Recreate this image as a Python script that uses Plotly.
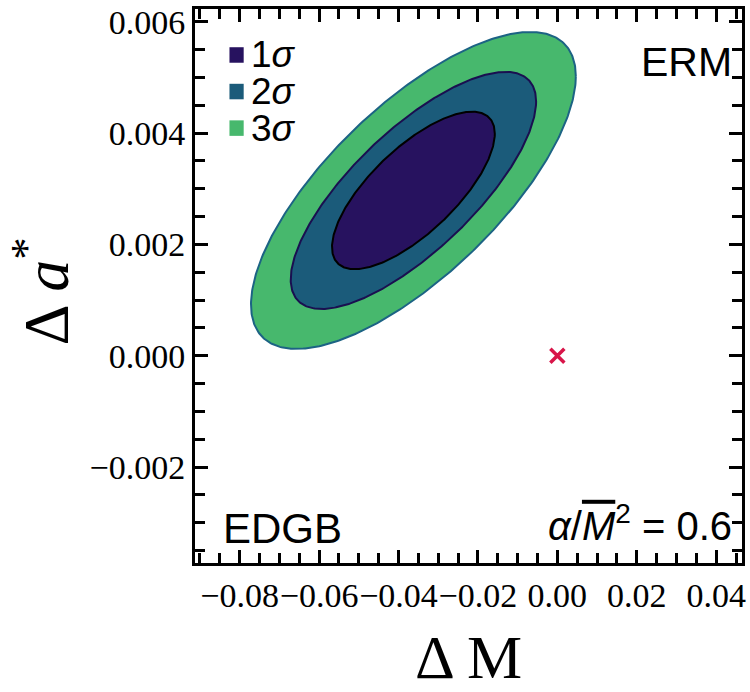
import numpy as np
import plotly.graph_objects as go

# ---- data: confidence-region ellipses (centre, half-extents, correlation) ----
levels = ["1", "2", "3"]
center_dM = -0.03625
center_da = 0.00297
half_dM = [0.0205, 0.0309, 0.0409]
half_da = [0.001415, 0.00213, 0.002847]
rho = [0.72, 0.75, 0.72]
fill_colors = ["#27125f", "#1b5b7a", "#47b86d"]
edge_colors = ["#000000", "#1a0f50", "#1c6384"]

# GR reference point
ref_dM = [0.0]
ref_da = [0.0]

x_ticks = [-0.08, -0.06, -0.04, -0.02, 0.00, 0.02, 0.04]
y_ticks = [-0.002, 0.000, 0.002, 0.004, 0.006]
x_range = [-0.09125, 0.0465]
y_range = [-0.003724, 0.00623]
x_minor_step = 0.005
y_minor_step = 0.0005

fig = go.Figure()

t = np.linspace(0, 2 * np.pi, 400)
for i in [2, 1, 0]:
    xs = center_dM + half_dM[i] * np.cos(t)
    ys = center_da + half_da[i] * (rho[i] * np.cos(t) + np.sqrt(1 - rho[i] ** 2) * np.sin(t))
    fig.add_trace(go.Scatter(x=xs, y=ys, mode="lines", fill="toself",
                             fillcolor=fill_colors[i],
                             line=dict(color=edge_colors[i], width=2),
                             showlegend=False, hoverinfo="skip"))

fig.add_trace(go.Scatter(x=ref_dM, y=ref_da, mode="markers",
                         marker=dict(symbol="x-thin", size=14,
                                     line=dict(color="#d81549", width=3.5)),
                         showlegend=False))

# invisible trace to carry the overlay axes (minor ticks)
fig.add_trace(go.Scatter(x=[None], y=[None], xaxis="x2", yaxis="y2",
                         showlegend=False, hoverinfo="skip"))

# legend (manual, inside plot)
for i, lv in enumerate(levels):
    yy = 0.917 - i * 0.066
    fig.add_shape(type="rect", xref="paper", yref="paper",
                  x0=0.063, x1=0.089, y0=yy - 0.014, y1=yy + 0.014,
                  fillcolor=fill_colors[i], line=dict(width=0))
    fig.add_annotation(xref="paper", yref="paper", x=0.098, y=yy,
                       text=lv + "<i>σ</i>", showarrow=False,
                       xanchor="left", yanchor="middle",
                       font=dict(family="Liberation Sans", size=37, color="black"))

fig.add_annotation(xref="paper", yref="paper", x=0.985, y=0.905,
                   text="ERM", showarrow=False, xanchor="right", yanchor="middle",
                   font=dict(family="Liberation Sans", size=41, color="black"))
fig.add_annotation(xref="paper", yref="paper", x=0.048, y=0.062,
                   text="EDGB", showarrow=False, xanchor="left", yanchor="middle",
                   font=dict(family="Liberation Sans", size=42, color="black"))
fig.add_annotation(xref="paper", yref="paper", x=0.985, y=0.072,
                   text="<i>α</i>/<span style='text-decoration:overline'><i>M</i></span><sup>2</sup> = 0.6",
                   showarrow=False, xanchor="right", yanchor="middle",
                   font=dict(family="Liberation Sans", size=40, color="black"))

# axis titles
fig.add_annotation(xref="paper", yref="paper", x=0.5, y=-0.17,
                   text="Δ M", showarrow=False, xanchor="center", yanchor="middle",
                   font=dict(family="Liberation Serif", size=62, color="black"))
fig.add_annotation(xref="paper", yref="paper", x=-0.28, y=0.49,
                   text="Δ <i>a</i><sup>*</sup>", showarrow=False, textangle=-90,
                   xanchor="center", yanchor="middle",
                   font=dict(family="Liberation Serif", size=64, color="black"))

fig.update_layout(
    xaxis=dict(range=x_range, tickmode="array", tickvals=x_ticks,
               tickformat=".2f", tickangle=0,
               showline=True, linewidth=3, linecolor="black", mirror="allticks",
               ticks="inside", ticklen=13, tickwidth=2.5, tickcolor="black",
               showgrid=False, zeroline=False,
               tickfont=dict(family="Liberation Serif", size=34, color="black")),
    yaxis=dict(range=y_range, tickmode="array", tickvals=y_ticks,
               tickformat=".3f",
               showline=True, linewidth=3, linecolor="black", mirror="allticks",
               ticks="inside", ticklen=13, tickwidth=2.5, tickcolor="black",
               showgrid=False, zeroline=False,
               tickfont=dict(family="Liberation Serif", size=34, color="black")),
    xaxis2=dict(range=x_range, overlaying="x", side="bottom", tickmode="linear",
                tick0=0, dtick=x_minor_step, ticks="inside", ticklen=10, tickwidth=2.5,
                tickcolor="black", mirror="allticks", showline=False,
                showticklabels=False, showgrid=False, zeroline=False),
    yaxis2=dict(range=y_range, overlaying="y", side="left", tickmode="linear",
                tick0=0, dtick=y_minor_step, ticks="inside", ticklen=10, tickwidth=2.5,
                tickcolor="black", mirror="allticks", showline=False,
                showticklabels=False, showgrid=False, zeroline=False),
    width=750, height=692,
    margin=dict(l=195, r=4, t=7, b=129),
    plot_bgcolor="white", paper_bgcolor="white",
    showlegend=False)

fig.write_html("out.html")
